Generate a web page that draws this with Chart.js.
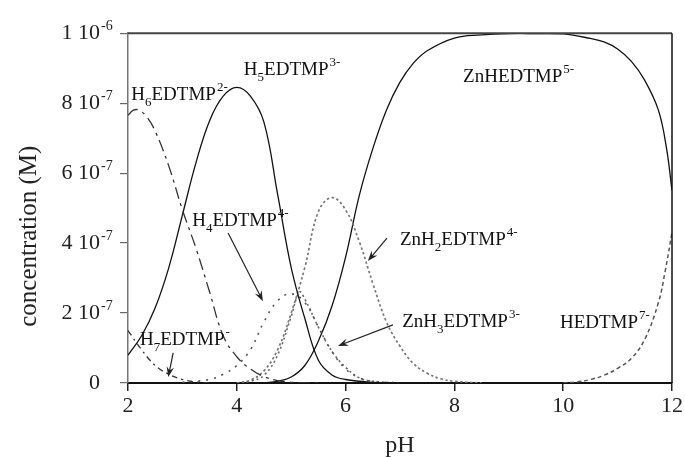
<!DOCTYPE html>
<html>
<head>
<meta charset="utf-8">
<script src="https://cdn.jsdelivr.net/npm/chart.js@4/dist/chart.umd.min.js"></script>
<style>
  html, body { margin: 0; padding: 0; background: #fff; }
</style>
</head>
<body>
<canvas id="chart" width="685" height="457"></canvas>
<script>
// concentrations in units of 1e-7 M
const h7Ph = [2.0, 2.25, 2.5, 2.75, 3.0, 3.25, 3.5];
const h7Conc = [1.5, 0.95, 0.5, 0.25, 0.1, 0.03, 0];

const h6Ph = [2.0, 2.1, 2.2, 2.35, 2.5, 2.75, 3.0, 3.25, 3.5, 3.75, 4.0, 4.25, 4.5, 4.75, 5.0, 5.5];
const h6Conc = [7.65, 7.8, 7.8, 7.6, 7.2, 6.2, 4.95, 3.85, 2.6, 1.35, 0.75, 0.4, 0.18, 0.07, 0.02, 0];

const h5Ph = [2.0, 2.25, 2.5, 2.75, 3.0, 3.25, 3.5, 3.75, 4.0, 4.25, 4.5, 4.75, 5.0, 5.25, 5.5, 5.75, 6.0, 6.5, 7.0];
const h5Conc = [0.8, 1.35, 2.15, 3.3, 4.8, 6.3, 7.5, 8.2, 8.45, 8.2, 7.45, 5.4, 3.3, 1.85, 0.65, 0.23, 0.1, 0.02, 0];

const h4Ph = [3.0, 3.5, 3.75, 4.0, 4.25, 4.5, 4.75, 5.0, 5.25, 5.5, 5.75, 6.0, 6.25, 6.5, 7.0];
const h4Conc = [0.02, 0.1, 0.25, 0.5, 0.95, 1.75, 2.35, 2.55, 2.3, 1.6, 0.9, 0.4, 0.15, 0.05, 0];

const znH3Ph = [4.0, 4.25, 4.5, 4.75, 5.0, 5.15, 5.25, 5.5, 5.75, 6.0, 6.25, 6.5, 7.0];
const znH3Conc = [0, 0.05, 0.22, 0.8, 1.9, 2.6, 2.4, 1.6, 0.9, 0.45, 0.15, 0.05, 0];

const znH2Ph = [4.0, 4.25, 4.5, 4.75, 5.0, 5.25, 5.5, 5.75, 6.0, 6.25, 6.5, 6.75, 7.0, 7.25, 7.5, 7.75, 8.0, 8.5];
const znH2Conc = [0, 0.08, 0.35, 0.95, 2.0, 3.3, 4.9, 5.3, 4.95, 4.05, 2.85, 1.75, 1.05, 0.55, 0.28, 0.12, 0.05, 0];

const znHPh = [4.5, 4.75, 5.0, 5.25, 5.5, 5.75, 6.0, 6.25, 6.5, 6.75, 7.0, 7.25, 7.5, 8.0, 8.5, 9.0, 9.5, 10.0, 10.5, 10.75, 11.0, 11.25, 11.5, 11.75, 11.9, 12.0];
const znHConc = [0, 0.05, 0.17, 0.5, 1.2, 2.2, 3.6, 5.35, 6.7, 7.8, 8.6, 9.15, 9.5, 9.86, 9.95, 9.99, 9.99, 9.98, 9.85, 9.75, 9.55, 9.2, 8.65, 7.8, 6.7, 5.5];

const hPh = [10.0, 10.25, 10.5, 10.75, 11.0, 11.25, 11.5, 11.75, 11.875, 12.0];
const hConc = [0, 0.03, 0.1, 0.22, 0.42, 0.7, 1.25, 2.3, 3.2, 4.3];

const xTicks = [2, 4, 6, 8, 10, 12];
const yTicks = [0, 2, 4, 6, 8, 10];

// species labels: [text, kind] pieces, anchored at (pH, conc) = left/baseline
const speciesLabels = [
  { x: 2.06, y: 8.1, parts: [["H", ""], ["6", "sub"], ["EDTMP", ""], ["2-", "sup"]] },
  { x: 4.13, y: 8.8, parts: [["H", ""], ["5", "sub"], ["EDTMP", ""], ["3-", "sup"]] },
  { x: 8.16, y: 8.6, parts: [["ZnHEDTMP", ""], ["5-", "sup"]] },
  { x: 3.18, y: 4.49, parts: [["H", ""], ["4", "sub"], ["EDTMP", ""], ["4-", "sup"]] },
  { x: 7.0, y: 3.95, parts: [["ZnH", ""], ["2", "sub"], ["EDTMP", ""], ["4-", "sup"]] },
  { x: 7.04, y: 1.6, parts: [["ZnH", ""], ["3", "sub"], ["EDTMP", ""], ["3-", "sup"]] },
  { x: 9.94, y: 1.57, parts: [["HEDTMP", ""], ["7-", "sup"]] },
  { x: 2.22, y: 1.09, parts: [["H", ""], ["7", "sub"], ["EDTMP", ""], ["-", "sup"]] }
];

const arrows = [
  { from: [3.84, 4.29], to: [4.48, 2.34] },
  { from: [2.83, 0.86], to: [2.74, 0.17] },
  { from: [6.76, 4.14], to: [6.41, 3.49] },
  { from: [6.87, 1.66], to: [5.86, 1.06] }
];

const FONT = "'Liberation Serif', 'Times New Roman', serif";

function pts(xs, ys) {
  return xs.map((x, i) => ({ x, y: ys[i] }));
}

function line(label, xs, ys, color, dash, width) {
  return {
    label,
    data: pts(xs, ys),
    borderColor: color,
    borderDash: dash,
    borderWidth: width,
    pointRadius: 0,
    fill: false,
    tension: 0.4
  };
}

function drawSpecies(ctx, px, py, parts) {
  let cx = px;
  parts.forEach(([txt, kind]) => {
    if (kind === "sub") {
      ctx.font = `13px ${FONT}`;
      ctx.fillText(txt, cx, py + 6);
    } else if (kind === "sup") {
      ctx.font = `13px ${FONT}`;
      ctx.fillText(txt, cx + 1, py - 9);
    } else {
      ctx.font = `19px ${FONT}`;
      ctx.fillText(txt, cx, py);
    }
    cx += ctx.measureText(txt).width;
  });
}

function drawArrow(ctx, x1, y1, x2, y2) {
  const ang = Math.atan2(y2 - y1, x2 - x1);
  const len = 11;
  ctx.beginPath();
  ctx.moveTo(x1, y1);
  ctx.lineTo(x2 - Math.cos(ang) * 4, y2 - Math.sin(ang) * 4);
  ctx.stroke();
  ctx.beginPath();
  ctx.moveTo(x2, y2);
  ctx.lineTo(x2 - len * Math.cos(ang - 0.35), y2 - len * Math.sin(ang - 0.35));
  ctx.lineTo(x2 - len * 0.6 * Math.cos(ang), y2 - len * 0.6 * Math.sin(ang));
  ctx.lineTo(x2 - len * Math.cos(ang + 0.35), y2 - len * Math.sin(ang + 0.35));
  ctx.closePath();
  ctx.fill();
}

const extras = {
  id: "extras",
  afterDraw(chart) {
    const { ctx, chartArea: a, scales: { x, y } } = chart;
    ctx.save();

    // top and right frame
    ctx.strokeStyle = "#444";
    ctx.lineWidth = 2;
    ctx.beginPath();
    ctx.moveTo(a.left, a.top);
    ctx.lineTo(a.right, a.top);
    ctx.stroke();
    ctx.strokeStyle = "#111";
    ctx.lineWidth = 1.5;
    ctx.beginPath();
    ctx.moveTo(a.right, a.top);
    ctx.lineTo(a.right, a.bottom);
    ctx.stroke();

    // exponents of the y tick labels
    const yo = y.options;
    const expX = y.right - yo.grid.tickLength - yo.ticks.padding + 1;
    ctx.fillStyle = "#222";
    ctx.textAlign = "left";
    ctx.textBaseline = "alphabetic";
    ctx.font = `14px ${FONT}`;
    y.ticks.forEach(t => {
      if (t.value === 0) return;
      const py = y.getPixelForValue(t.value);
      ctx.fillText(t.value === 10 ? "-6" : "-7", expX, py - 3);
    });

    // species labels
    ctx.fillStyle = "#111";
    speciesLabels.forEach(l => {
      drawSpecies(ctx, x.getPixelForValue(l.x), y.getPixelForValue(l.y), l.parts);
    });

    // arrows
    ctx.strokeStyle = "#222";
    ctx.fillStyle = "#222";
    ctx.lineWidth = 1.2;
    arrows.forEach(ar => {
      drawArrow(ctx,
        x.getPixelForValue(ar.from[0]), y.getPixelForValue(ar.from[1]),
        x.getPixelForValue(ar.to[0]), y.getPixelForValue(ar.to[1]));
    });

    ctx.restore();
  }
};

new Chart(document.getElementById("chart"), {
  type: "line",
  data: {
    datasets: [
      line("H7EDTMP-", h7Ph, h7Conc, "#333", [6, 4, 2, 4], 1.3),
      line("H6EDTMP2-", h6Ph, h6Conc, "#333", [12, 5, 3, 5], 1.3),
      line("H5EDTMP3-", h5Ph, h5Conc, "#111", [], 1.3),
      line("H4EDTMP4-", h4Ph, h4Conc, "#555", [2, 6], 1.6),
      line("ZnH3EDTMP3-", znH3Ph, znH3Conc, "#666", [2, 3], 1.6),
      line("ZnH2EDTMP4-", znH2Ph, znH2Conc, "#777", [2.5, 2.5], 1.7),
      line("ZnHEDTMP5-", znHPh, znHConc, "#111", [], 1.3),
      line("HEDTMP7-", hPh, hConc, "#555", [4, 3], 1.5)
    ]
  },
  options: {
    responsive: false,
    animation: false,
    layout: { padding: { left: 0, right: 13, top: 33, bottom: 0 } },
    plugins: {
      legend: { display: false },
      tooltip: { enabled: false }
    },
    scales: {
      x: {
        type: "linear",
        min: 2,
        max: 12,
        afterFit: s => { s.height = 74; },
        afterBuildTicks: s => { s.ticks = xTicks.map(v => ({ value: v })); },
        grid: { drawOnChartArea: false, tickLength: 8, color: "#222", lineWidth: 1.5 },
        border: { color: "#111", width: 2 },
        ticks: { color: "#222", padding: 2, font: { family: FONT, size: 22 } },
        title: {
          display: true,
          text: "pH",
          color: "#222",
          padding: { top: 0, bottom: -3 },
          font: { family: FONT, size: 24 }
        }
      },
      y: {
        type: "linear",
        min: 0,
        max: 10,
        afterFit: s => { s.width = 128; },
        afterBuildTicks: s => { s.ticks = yTicks.map(v => ({ value: v })); },
        grid: { drawOnChartArea: false, tickLength: 8, color: "#666", lineWidth: 1.2 },
        border: { color: "#777", width: 1.5 },
        ticks: {
          color: "#222",
          padding: 20,
          font: { family: FONT, size: 22 },
          callback: v => (v === 0 ? "0" : v === 10 ? "1 10" : v + " 10")
        },
        title: {
          display: true,
          // trailing spaces push the rotated title down to where the figure has it
          text: "concentration (M)         ",
          color: "#222",
          padding: { top: 14, bottom: 0 },
          font: { family: FONT, size: 25 }
        }
      }
    }
  },
  plugins: [extras]
});
</script>
</body>
</html>
